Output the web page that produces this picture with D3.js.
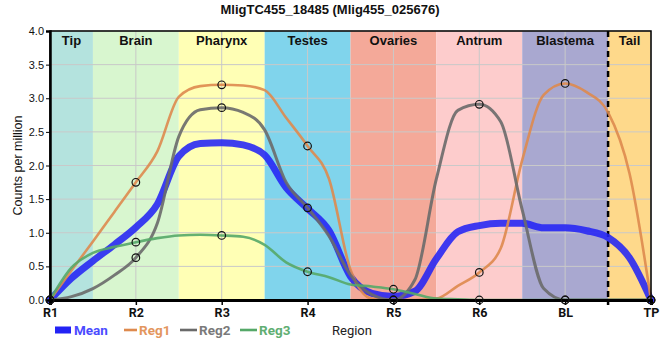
<!DOCTYPE html>
<html>
<head>
<meta charset="utf-8">
<script src="https://cdn.jsdelivr.net/npm/d3@7/dist/d3.min.js"></script>
<style>
  html, body { margin: 0; padding: 0; background: #fff; }
  svg { display: block; }
</style>
</head>
<body>
<script>
// ---------------- DATA ----------------
const title = "MligTC455_18485 (Mlig455_025676)";
const regions = ["R1", "R2", "R3", "R4", "R5", "R6", "BL", "TP"];
const bands = ["Tip", "Brain", "Pharynx", "Testes", "Ovaries", "Antrum", "Blastema", "Tail"];
const yTicks = [0, 0.5, 1, 1.5, 2, 2.5, 3, 3.5, 4];
const seriesNames = ["Mean", "Reg1", "Reg2", "Reg3"];
// curve values every quarter region step (R1 .. TP)
const reg1 = [0, 0.44, 0.87, 1.31, 1.75, 2.21, 3.02, 3.18, 3.20, 3.19, 3.12, 2.71, 2.29, 1.80, 0.45,
              0.02, 0, 0, 0.02, 0.21, 0.41, 0.77, 2.08, 3.05, 3.22, 3.09, 2.79, 1.88, 0];
const reg2 = [0, 0.05, 0.17, 0.37, 0.63, 1.14, 2.43, 2.83, 2.86, 2.79, 2.53, 1.75, 1.37, 0.95, 0.37,
              0.08, 0, 0.30, 1.80, 2.82, 2.91, 2.65, 1.34, 0.17, 0, 0, 0, 0, 0];
const reg3 = [0, 0.48, 0.70, 0.79, 0.86, 0.92, 0.96, 0.97, 0.96, 0.94, 0.82, 0.56, 0.42, 0.34, 0.23,
              0.20, 0.16, 0.09, 0.02, 0.01, 0, 0, 0, 0, 0, 0, 0, 0, 0];
const stepsPerRegion = 4;

// ---------------- STYLE ----------------
const bandColors = ["#b4e3de", "#d8f6cf", "#ffffb5", "#80d4ec", "#f4a999", "#fdcccc", "#a9a8d0", "#fed98b"];
const seriesColors = { Mean: "#2323f5", Reg1: "#de8a4e", Reg2: "#6a6a6a", Reg3: "#55a868" };
const seriesTextColors = { Mean: "#4b4bff", Reg1: "#e3965e", Reg2: "#7a7a7a", Reg3: "#60ae72" };
const seriesWidths = { Mean: 7, Reg1: 2.6, Reg2: 3, Reg3: 2.6 };

const W = 660, H = 360;
const margin = { left: 50, right: 9, top: 31, bottom: 60 };

const svg = d3.select("body").append("svg").attr("width", W).attr("height", H);

const x = d3.scaleLinear().domain([0, regions.length - 1]).range([margin.left, W - margin.right]);
const y = d3.scaleLinear().domain([0, 4]).range([H - margin.bottom, margin.top]);

const meanSeries = reg1.map((d, i) => (d + reg2[i] + reg3[i]) / 3);
const seriesData = { Mean: meanSeries, Reg1: reg1, Reg2: reg2, Reg3: reg3 };

// bands
const g = svg.append("g");
bands.forEach((b, i) => {
  const x0 = x(Math.max(0, i - 0.5)), x1 = x(Math.min(regions.length - 1, i + 0.5));
  g.append("rect").attr("x", x0).attr("y", y(4)).attr("width", x1 - x0).attr("height", y(0) - y(4))
    .attr("fill", bandColors[i]);
});

// grid
g.selectAll(".hgrid").data(yTicks).join("line")
  .attr("x1", x(0)).attr("x2", x(regions.length - 1))
  .attr("y1", d => y(d)).attr("y2", d => y(d))
  .attr("stroke", "#c9c9c9").attr("stroke-width", 1);
g.selectAll(".vgrid").data(regions).join("line")
  .attr("x1", (d, i) => x(i)).attr("x2", (d, i) => x(i))
  .attr("y1", y(0)).attr("y2", y(4))
  .attr("stroke", "#c9c9c9").attr("stroke-width", 1);

// band labels
bands.forEach((b, i) => {
  const x0 = x(Math.max(0, i - 0.5)), x1 = x(Math.min(regions.length - 1, i + 0.5));
  g.append("text").attr("x", (x0 + x1) / 2).attr("y", 44.5).attr("text-anchor", "middle")
    .attr("font-family", "Liberation Sans, Arial, sans-serif").attr("font-weight", "bold")
    .attr("font-size", 13).attr("fill", "#111").text(b);
});

// dashed separator between Blastema and Tail
g.append("line").attr("x1", x(6.5)).attr("x2", x(6.5)).attr("y1", y(4)).attr("y2", y(0) + 5)
  .attr("stroke", "#000").attr("stroke-width", 2.5).attr("stroke-dasharray", "6,4");

// lines
const line = d3.line().x((d, i) => x(i / stepsPerRegion)).y(d => y(d)).curve(d3.curveMonotoneX);
seriesNames.forEach(name => {
  g.append("path").datum(seriesData[name]).attr("d", line)
    .attr("fill", "none").attr("stroke", seriesColors[name])
    .attr("stroke-width", seriesWidths[name])
    .attr("stroke-opacity", name === "Mean" ? 0.88 : 0.9)
    .attr("stroke-linejoin", "round").attr("stroke-linecap", "round");
});

// frame
g.append("rect").attr("x", x(0)).attr("y", y(4)).attr("width", x(7) - x(0)).attr("height", y(0) - y(4))
  .attr("fill", "none").attr("stroke", "#000").attr("stroke-width", 1.5);

// axes
const yAxis = d3.axisLeft(y).tickValues(yTicks).tickFormat(d3.format(".1f")).tickSize(4).tickPadding(2);
const ya = svg.append("g").attr("transform", `translate(${x(0)},0)`).call(yAxis);
ya.select(".domain").attr("stroke", "#000").attr("stroke-width", 2.5);
ya.selectAll("text").attr("font-family", "Liberation Sans, Arial, sans-serif").attr("font-size", 11).attr("fill", "#111");

const xAxis = d3.axisBottom(x).tickValues(d3.range(regions.length)).tickFormat(i => regions[i]).tickSize(5).tickPadding(3);
const xa = svg.append("g").attr("transform", `translate(0,${y(0)})`).call(xAxis);
xa.select(".domain").attr("stroke", "#000").attr("stroke-width", 3);
xa.selectAll(".tick line").attr("stroke-width", 1.5);
xa.selectAll("text").attr("font-family", "Roboto, sans-serif").attr("font-weight", 700).attr("font-size", 12.5).attr("fill", "#111");

// markers
["Reg1", "Reg2", "Reg3"].forEach(name => {
  const pts = seriesData[name].map((v, i) => ({ i, v })).filter(d => d.i % stepsPerRegion === 0);
  svg.append("g").selectAll("circle").data(pts).join("circle")
    .attr("cx", d => x(d.i / stepsPerRegion)).attr("cy", d => y(d.v)).attr("r", 3.8)
    .attr("fill", "none").attr("stroke", "#111").attr("stroke-width", 1.2);
});

// title
svg.append("text").attr("x", 330).attr("y", 14).attr("text-anchor", "middle")
  .attr("font-family", "Liberation Sans, Arial, sans-serif").attr("font-weight", "bold")
  .attr("font-size", 13).attr("fill", "#111").text(title);

// y label
svg.append("text").attr("transform", `translate(21.5,${(y(0) + y(4)) / 2}) rotate(-90)`)
  .attr("text-anchor", "middle").attr("font-family", "Liberation Sans, Arial, sans-serif")
  .attr("font-size", 12.5).attr("fill", "#111").text("Counts per million");

// legend
const legendPos = { Mean: [55, 71, 74], Reg1: [124, 137, 139], Reg2: [180, 197, 199], Reg3: [240, 257, 259] };
const lg = svg.append("g");
seriesNames.forEach(name => {
  const [l0, l1, tx] = legendPos[name];
  lg.append("line").attr("x1", l0).attr("x2", l1).attr("y1", 330).attr("y2", 330)
    .attr("stroke", seriesColors[name]).attr("stroke-width", name === "Mean" ? 7 : 2.6);
  lg.append("text").attr("x", tx).attr("y", 334.5).attr("font-family", "Roboto, sans-serif")
    .attr("font-weight", 700).attr("font-size", 13.5).attr("fill", seriesTextColors[name]).text(name);
});
lg.append("text").attr("x", 332).attr("y", 334.5).attr("font-family", "Roboto, sans-serif")
  .attr("font-size", 13).attr("fill", "#222").text("Region");
</script>
</body>
</html>
